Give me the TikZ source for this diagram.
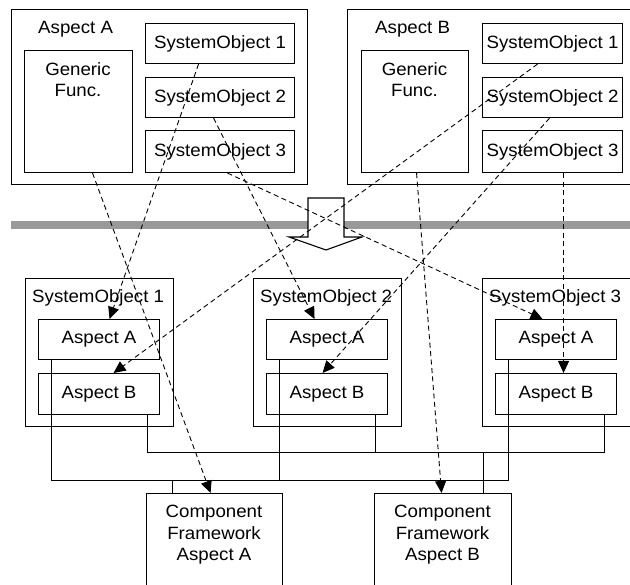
\documentclass[tikz,border=0pt]{standalone}
\usepackage{fontspec}
\setmainfont{Liberation Sans}[FakeStretch=1.05]
\usetikzlibrary{calc,arrows.meta}

\tikzset{
	box/.style={draw, line width=1.1pt, anchor=north west, inner sep=0pt},
	txt/.style={inner sep=0pt, align=center},
	link/.style={line width=0.9pt, dash pattern=on 5pt off 3.5pt, -{Triangle[length=12pt,width=11pt]}},
	wire/.style={line width=1pt}
}

\begin{document}
\begin{tikzpicture}[x=1pt, y=-1pt, font=\fontsize{17.8}{21.5}\selectfont]
				%%%%% FRAME %%%%%
				\clip (0,0) rectangle (630,585);
				\def\sow{149pt}
				\def\soh{40pt}
				\def\inw{121pt}
				
				% top aspects
				\node[box, minimum width=296pt, minimum height=175pt] (topA) at (11,9) {};
				\node[txt, anchor=base west] (topAlbl) at (38,34) {Aspect A};
				\node[box, minimum width=108pt, minimum height=122pt] (genA) at (24,50) {};
				\node[txt, anchor=north] (genAlbl) at (78,62) {Generic\\Func.};
				\node[box, minimum width=\sow, minimum height=\soh] (topAso1) at (145,23) {SystemObject 1};
				\node[box, minimum width=\sow, minimum height=\soh] (topAso2) at (145,77) {SystemObject 2};
				\node[box, minimum width=\sow, minimum height=42pt] (topAso3) at (145,130) {SystemObject 3};
				
				\node[box, minimum width=300pt, minimum height=175pt] (topB) at (347,9) {};
				\node[txt, anchor=base west] (topBlbl) at (375,34) {Aspect B};
				\node[box, minimum width=107pt, minimum height=122pt] (genB) at (361,50) {};
				\node[txt, anchor=north] (genBlbl) at (414.5,62) {Generic\\Func.};
				\node[box, minimum width=140pt, minimum height=\soh] (topBso1) at (482,23) {SystemObject 1};
				\node[box, minimum width=140pt, minimum height=\soh] (topBso2) at (482,77) {SystemObject 2};
				\node[box, minimum width=140pt, minimum height=42pt] (topBso3) at (482,130) {SystemObject 3};
				
				% separator and transformation arrow
				\fill[black!40] (11,221) rectangle (640,229);
				\draw[line width=1.1pt, fill=white] (308,198) -- (344,198) -- (344,237) -- (362,237) -- (326,250) -- (289,237) -- (308,237) -- cycle;
				
				% system objects
				\node[box, minimum width=148pt, minimum height=148pt] (so1) at (25,278) {};
				\node[txt, anchor=base west] (so1lbl) at (32,303) {SystemObject 1};
				\node[box, minimum width=\inw, minimum height=40pt] (so1a) at (38,319) {Aspect A};
				\node[box, minimum width=\inw, minimum height=41pt] (so1b) at (38,373) {Aspect B};
				
				\node[box, minimum width=148pt, minimum height=148pt] (so2) at (253,278) {};
				\node[txt, anchor=base west] (so2lbl) at (260,303) {SystemObject 2};
				\node[box, minimum width=\inw, minimum height=40pt] (so2a) at (266,319) {Aspect A};
				\node[box, minimum width=\inw, minimum height=41pt] (so2b) at (266,373) {Aspect B};
				
				\node[box, minimum width=160pt, minimum height=148pt] (so3) at (482,278) {};
				\node[txt, anchor=base west] (so3lbl) at (489,303) {SystemObject 3};
				\node[box, minimum width=\inw, minimum height=40pt] (so3a) at (495,319) {Aspect A};
				\node[box, minimum width=\inw, minimum height=41pt] (so3b) at (495,373) {Aspect B};
				
				% component frameworks
				\node[box, minimum width=136pt, minimum height=120pt] (cfA) at (146,493) {};
				\node[txt, anchor=north] (cfAlbl) at (214,505) {Component\\Framework\\Aspect A};
				\node[box, minimum width=137pt, minimum height=120pt] (cfB) at (374,493) {};
				\node[txt, anchor=north] (cfBlbl) at (442.5,505) {Component\\Framework\\Aspect B};
				
				% wiring
				\coordinate (busA) at (0,481);
				\coordinate (busB) at (0,453);
				\draw[wire] ([xshift=13pt]so1a.south west) -- ([xshift=13pt]so1a.south west |- busA);
				\draw[wire] ([xshift=13pt]so2a.south west) -- ([xshift=13pt]so2a.south west |- busA);
				\draw[wire] ([xshift=13pt]so3a.south west) -- ([xshift=13pt]so3a.south west |- busA);
				\draw[wire] ([xshift=13pt]so1a.south west |- busA) -- ([xshift=13pt]so3a.south west |- busA);
				\draw[wire] ([xshift=26pt]cfA.north west) -- ([xshift=26pt]cfA.north west |- busA);
				
				\draw[wire] ([xshift=-13pt]so1b.south east) -- ([xshift=-13pt]so1b.south east |- busB);
				\draw[wire] ([xshift=-13pt]so2b.south east) -- ([xshift=-13pt]so2b.south east |- busB);
				\draw[wire] ([xshift=-13pt]so3b.south east) -- ([xshift=-13pt]so3b.south east |- busB);
				\draw[wire] ([xshift=-13pt]so1b.south east |- busB) -- ([xshift=-13pt]so3b.south east |- busB);
				\draw[wire] ([xshift=-29pt]cfB.north east) -- ([xshift=-29pt]cfB.north east |- busB);
				
				% mappings
				\draw[link] ([xshift=-21.5pt]topAso1.south) -- ([xshift=10.5pt]so1a.north);
				\draw[link] ([xshift=14pt]genA.south) -- ([xshift=-4pt]cfA.north);
				\draw[link] ([xshift=-6.5pt]topAso2.south) -- ([xshift=-12.5pt]so2a.north);
				\draw[link] ([xshift=7.5pt]topAso3.south) -- ([xshift=-13.5pt]so3a.north);
				\draw[link] ([xshift=-15pt]topBso1.south) -- ([xshift=14.5pt]so1b.north);
				\draw[link] ([xshift=1.5pt]genB.south) -- ([xshift=-1.5pt]cfB.north);
				\draw[link] ([xshift=-3pt]topBso2.south) -- ([xshift=-4.5pt]so2b.north);
				\draw[link] ([xshift=11pt]topBso3.south) -- ([xshift=7.5pt]so3b.north);
				%%%%% END %%%%%
\end{tikzpicture}
\end{document}
